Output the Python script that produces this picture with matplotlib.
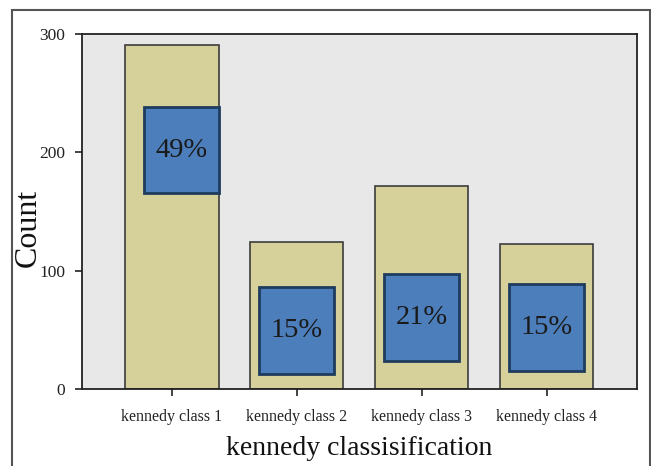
import matplotlib.pyplot as plt
from matplotlib.patches import Rectangle

# values
categories = ["kennedy class 1", "kennedy class 2", "kennedy class 3", "kennedy class 4"]
counts = [291, 124, 172, 123]
pct_labels = ["49%", "15%", "21%", "15%"]
box_low = [165.5, 12.5, 24, 15]
box_high = [238.5, 86, 97.5, 89]

plt.rcParams["font.family"] = ["Liberation Serif", "DejaVu Serif"]

fig = plt.figure(figsize=(6.51, 4.66), dpi=100)
ax = fig.add_axes([0.126, 0.165, 0.852, 0.762])
ax.set_facecolor("#e8e8e8")

x = list(range(len(categories)))
ax.bar(x, counts, width=0.745, color="#d6d09a", edgecolor="#3c3c3c", linewidth=1.2, zorder=2)

# blue boxes with the percentages (first one sits a bit to the right)
offsets = [0.08, 0, 0, 0]
for i in x:
    cx = i + offsets[i]
    ax.add_patch(Rectangle((cx - 0.3, box_low[i]), 0.6, box_high[i] - box_low[i],
                           facecolor="#4c7ebb", edgecolor="#1f3b5e", linewidth=2, zorder=3))
    ax.text(cx, (box_low[i] + box_high[i]) / 2, pct_labels[i], ha="center", va="center",
            fontsize=20.5, color="#1a1a1a", zorder=4)

ax.set_xlim(-0.72, 3.72)
ax.set_ylim(0, 300)
ax.set_yticks([0, 100, 200, 300])
ax.set_xticks(x)
ax.set_xticklabels(categories)
ax.tick_params(axis="y", length=5, width=1.2, pad=7, labelsize=12.5, colors="#222222")
ax.tick_params(axis="x", length=5, width=1.2, pad=9, labelsize=11.5, colors="#222222")
for s in ax.spines.values():
    s.set_color("#222222")
    s.set_linewidth(1.3)

ax.set_ylabel("Count", fontsize=23, color="#111111", va="center")
ax.yaxis.set_label_coords(-0.097, 0.454)
ax.set_xlabel("kennedy classisification", fontsize=20, labelpad=8, color="#111111")

# outer frame around the whole chart
fig.patches.append(Rectangle((12 / 651, -0.05), 638 / 651, 1.05 - 10 / 466, transform=fig.transFigure,
                             fill=False, edgecolor="#555555", linewidth=1.5))

fig.savefig("out.png", dpi=100)
